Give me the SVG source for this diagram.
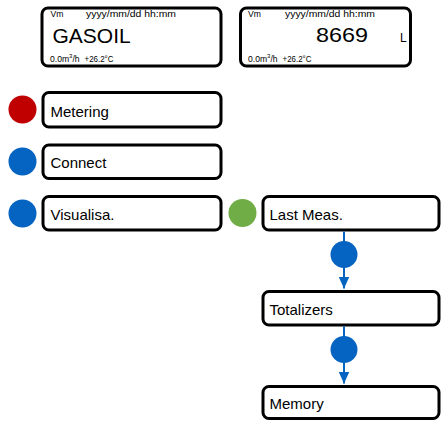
<svg xmlns="http://www.w3.org/2000/svg" width="441" height="423" viewBox="0 0 441 423">
<style>
.box{fill:#fff;stroke:#000;stroke-width:3}
.lbl{font-family:"Liberation Sans",Arial,sans-serif;font-size:15px;fill:#000}
.sm{font-family:"Liberation Sans",Arial,sans-serif;font-size:8.6px;fill:#000}
.big{font-family:"Liberation Sans",Arial,sans-serif;font-size:21px;fill:#000}
.red{fill:#C00000}.blue{fill:#0563C1}.green{fill:#70AD47}
.con{stroke:#0563C1;stroke-width:2;fill:none}
</style>
<defs>
<marker id="arr" viewBox="0 0 12 11" refX="12" refY="5.5" markerWidth="12" markerHeight="11" markerUnits="userSpaceOnUse" orient="auto">
<path d="M0,0 L12,5.5 L0,11 Z" fill="#0563C1"/>
</marker>
</defs>
<g id="lcd-gasoil">
<rect class="box" x="42" y="8" width="179" height="58" rx="6"/>
<text class="sm" x="50.5" y="17">Vm</text>
<text class="sm" x="86" y="17" textLength="90" lengthAdjust="spacingAndGlyphs">yyyy/mm/dd hh:mm</text>
<text class="big" x="52.5" y="42.5">GASOIL</text>
<text class="sm" x="50" y="61.5">0.0m<tspan font-size="6" dy="-3.5">3</tspan><tspan dy="3.5">/h</tspan></text>
<text class="sm" x="84.5" y="61.5" textLength="29" lengthAdjust="spacingAndGlyphs">+26.2°C</text>
</g>
<g id="lcd-volume">
<rect class="box" x="240.5" y="8" width="170" height="58" rx="6"/>
<text class="sm" x="248" y="17">Vm</text>
<text class="sm" x="285" y="17" textLength="90" lengthAdjust="spacingAndGlyphs">yyyy/mm/dd hh:mm</text>
<text class="big" x="368" y="42" text-anchor="end" textLength="52" lengthAdjust="spacingAndGlyphs">8669</text>
<text class="sm" x="400" y="42" style="font-size:12px">L</text>
<text class="sm" x="248" y="61.5">0.0m<tspan font-size="6" dy="-3.5">3</tspan><tspan dy="3.5">/h</tspan></text>
<text class="sm" x="282.5" y="61.5" textLength="29" lengthAdjust="spacingAndGlyphs">+26.2°C</text>
</g>
<g id="metering">
<circle class="red" cx="22.5" cy="109.5" r="14"/>
<rect class="box" x="43" y="92.5" width="178" height="34.5" rx="6"/>
<text class="lbl" x="50.5" y="116.5">Metering</text>
</g>
<g id="connect">
<circle class="blue" cx="22.5" cy="161.5" r="14"/>
<rect class="box" x="43" y="145" width="178" height="33.5" rx="6"/>
<text class="lbl" x="50.5" y="168">Connect</text>
</g>
<g id="visualisa">
<circle class="blue" cx="22.5" cy="213.5" r="14"/>
<rect class="box" x="43" y="196.5" width="178" height="33.5" rx="6"/>
<text class="lbl" x="50.5" y="220">Visualisa.</text>
</g>
<g id="last-meas">
<circle class="green" cx="242.5" cy="213" r="14"/>
<rect class="box" x="263" y="196.5" width="176" height="33.5" rx="6"/>
<text class="lbl" x="269.5" y="220">Last Meas.</text>
</g>
<g id="totalizers">
<rect class="box" x="263" y="291.5" width="176" height="33.5" rx="6"/>
<text class="lbl" x="269.5" y="314.5">Totalizers</text>
</g>
<g id="memory">
<rect class="box" x="263" y="386.5" width="176" height="32" rx="6"/>
<text class="lbl" x="269.5" y="408.5">Memory</text>
</g>
<g id="connectors">
<path class="con" d="M344,231.5 V288.5" marker-end="url(#arr)"/>
<circle class="blue" cx="344" cy="254.5" r="13.5"/>
<path class="con" d="M344,326.5 V383.5" marker-end="url(#arr)"/>
<circle class="blue" cx="344" cy="349.5" r="13.5"/>
</g>
</svg>
